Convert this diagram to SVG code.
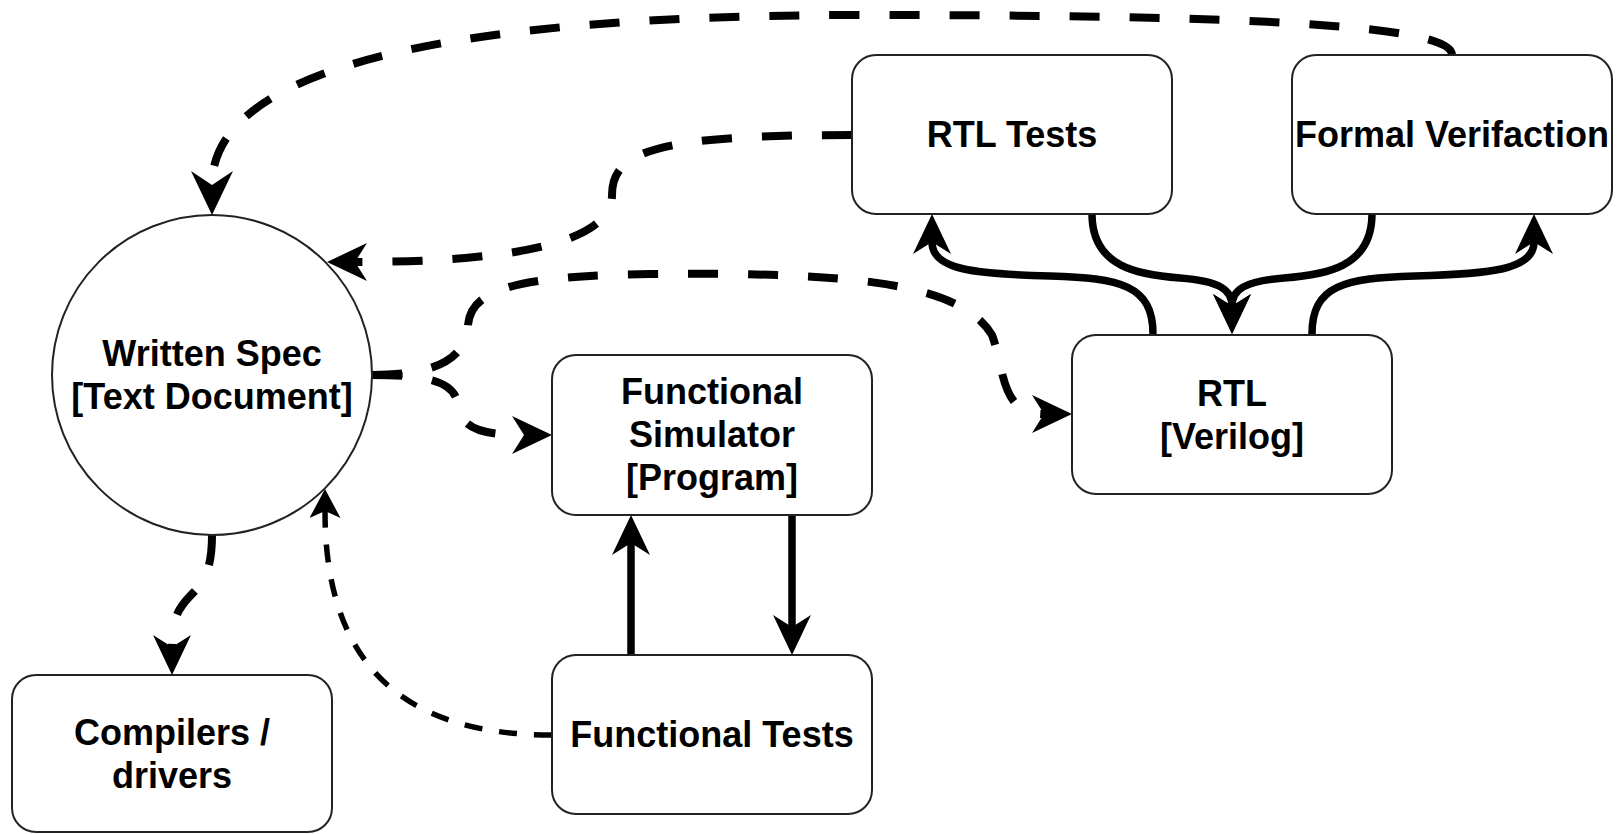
<svg xmlns="http://www.w3.org/2000/svg" width="1617" height="834" viewBox="0 0 1617 834">
  <defs>
    <style>
      .node { fill: #ffffff; stroke: #222222; stroke-width: 2; }
      .label { font-family: "Liberation Sans", Arial, sans-serif; font-weight: bold; font-size: 36px; fill: #000000; text-anchor: middle; }
      .edge { fill: none; stroke: #000000; stroke-linecap: butt; stroke-linejoin: round; }
      .solid { stroke-width: 7.5; marker-end: url(#arrow); }
      .dash { stroke-width: 8; stroke-dasharray: 30 30; marker-end: url(#arrow); }
      .dash-lg { stroke-width: 8; stroke-dasharray: 30 30; marker-end: url(#arrow-lg); }
      .dash-thin { stroke-width: 5.5; stroke-dasharray: 18 17; marker-end: url(#arrow-thin); }
    </style>
    <!-- classic notched arrowheads; refX sits on the notch so the line meets it cleanly -->
    <marker id="arrow" markerUnits="userSpaceOnUse" viewBox="0 0 40 38" markerWidth="40" markerHeight="38" refX="12" refY="19" orient="auto">
      <path d="M40,19 L0,0 L12,19 L0,38 Z" fill="#000000"/>
    </marker>
    <marker id="arrow-lg" markerUnits="userSpaceOnUse" viewBox="0 0 44 42" markerWidth="44" markerHeight="42" refX="14" refY="21" orient="auto">
      <path d="M44,21 L0,0 L14,21 L0,42 Z" fill="#000000"/>
    </marker>
    <marker id="arrow-thin" markerUnits="userSpaceOnUse" viewBox="0 0 29 31" markerWidth="29" markerHeight="31" refX="7" refY="15.5" orient="auto">
      <path d="M29,15.5 L0,0 L7,15.5 L0,31 Z" fill="#000000"/>
    </marker>
  </defs>

  <rect x="0" y="0" width="1617" height="834" fill="#ffffff"/>

  <g id="connectors">
    <!-- Formal Verifaction -> Written Spec (over the top) -->
    <path class="edge dash-lg" d="M1452,55 C1452,25 1250,15 860,15 C480,15 212,60 212,185"/>
    <!-- RTL Tests -> Written Spec -->
    <path class="edge dash" d="M852,135 C660,135 612,150 612,195 C612,250 480,262 355,262"/>
    <!-- Written Spec -> RTL -->
    <path class="edge dash" d="M372,375 C430,375 466,362 468,325 C471,288 520,276 650,274 C850,272 960,282 992,335 C1005,370 1000,414 1044,414"/>
    <!-- Written Spec -> Functional Simulator -->
    <path class="edge dash" d="M372,375 C430,375 455,382 458,405 C461,428 480,435 524,435"/>
    <!-- Written Spec -> Compilers / drivers -->
    <path class="edge dash" d="M212,535 C212,610 172,580 172,647"/>
    <!-- Functional Tests -> Written Spec -->
    <path class="edge dash-thin" d="M552,735 C420,735 325,680 325,511"/>
    <!-- Functional Tests -> Functional Simulator -->
    <path class="edge solid" d="M631,655 L631,543"/>
    <!-- Functional Simulator -> Functional Tests -->
    <path class="edge solid" d="M792,515 L792,627"/>
    <!-- RTL -> RTL Tests -->
    <path class="edge solid" d="M1153,334 C1153,285 1120,278 1050,276 C975,274 932,270 932,242"/>
    <!-- RTL Tests -> RTL -->
    <path class="edge solid" d="M1092,214 C1092,268 1140,275 1180,278 C1220,281 1232,290 1232,306"/>
    <!-- Formal Verifaction -> RTL -->
    <path class="edge solid" d="M1372,214 C1372,268 1324,275 1284,278 C1244,281 1232,290 1232,306"/>
    <!-- RTL -> Formal Verifaction -->
    <path class="edge solid" d="M1312,334 C1312,285 1345,278 1415,276 C1490,274 1534,270 1534,242"/>
  </g>

  <g id="written-spec">
    <circle class="node" cx="212" cy="375" r="160"/>
    <text class="label" x="212" y="366">Written Spec</text>
    <text class="label" x="212" y="409">[Text Document]</text>
  </g>

  <g id="rtl-tests">
    <rect class="node" x="852" y="55" width="320" height="159" rx="24" ry="24"/>
    <text class="label" x="1012" y="147">RTL Tests</text>
  </g>

  <g id="formal-verifaction">
    <rect class="node" x="1292" y="55" width="320" height="159" rx="24" ry="24"/>
    <text class="label" x="1452" y="147">Formal Verifaction</text>
  </g>

  <g id="rtl">
    <rect class="node" x="1072" y="335" width="320" height="159" rx="24" ry="24"/>
    <text class="label" x="1232" y="406">RTL</text>
    <text class="label" x="1232" y="449">[Verilog]</text>
  </g>

  <g id="functional-simulator">
    <rect class="node" x="552" y="355" width="320" height="160" rx="24" ry="24"/>
    <text class="label" x="712" y="404">Functional</text>
    <text class="label" x="712" y="447">Simulator</text>
    <text class="label" x="712" y="490">[Program]</text>
  </g>

  <g id="functional-tests">
    <rect class="node" x="552" y="655" width="320" height="159" rx="24" ry="24"/>
    <text class="label" x="712" y="747">Functional Tests</text>
  </g>

  <g id="compilers-drivers">
    <rect class="node" x="12" y="675" width="320" height="157" rx="24" ry="24"/>
    <text class="label" x="172" y="745">Compilers /</text>
    <text class="label" x="172" y="788">drivers</text>
  </g>
</svg>
